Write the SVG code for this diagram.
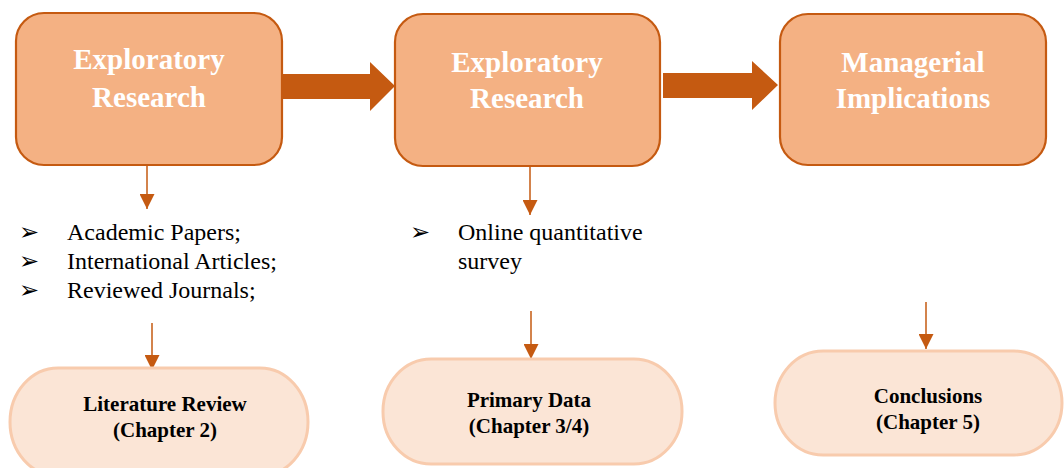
<svg xmlns="http://www.w3.org/2000/svg" width="1064" height="468" viewBox="0 0 1064 468">
  <defs>
    <marker id="tri" markerWidth="15" markerHeight="15" viewBox="0 0 15 15" refX="15" refY="7.5" orient="auto" markerUnits="userSpaceOnUse">
      <path d="M0,0 L15,7.5 L0,15 Z" fill="#c55a11"/>
    </marker>
    <style>
      .stage { fill: #f4b183; stroke: #c55a11; stroke-width: 2.2; }
      .result { fill: #fbe5d6; stroke: #f8cbad; stroke-width: 3; }
      .title { font-family: "Liberation Serif", "Times New Roman", serif; font-weight: bold; font-size: 29px; fill: #ffffff; text-anchor: middle; }
      .label { font-family: "Liberation Serif", "Times New Roman", serif; font-weight: bold; font-size: 21px; fill: #000000; text-anchor: middle; }
      .item { font-family: "Liberation Serif", "Times New Roman", serif; font-size: 24px; fill: #000000; }
      .bullet { font-family: "DejaVu Sans", sans-serif; font-size: 24px; fill: #000000; }
      .big { fill: #c55a11; }
      .thin { stroke: #c55a11; stroke-width: 1.5; fill: none; marker-end: url(#tri); }
    </style>
  </defs>
  <rect width="1064" height="468" fill="#ffffff"/>

  <!-- connectors -->
  <g id="connectors">
    <path class="big" d="M282,74 L370,74 L370,62 L395,86 L370,111 L370,99 L282,99 Z"/>
    <path class="big" d="M663,73 L752,73 L752,61 L778,85 L752,110 L752,98 L663,98 Z"/>
    <line class="thin" x1="147" y1="165" x2="147" y2="209"/>
    <line class="thin" x1="530" y1="167" x2="530" y2="215"/>
    <line class="thin" x1="152" y1="323" x2="152" y2="370"/>
    <line class="thin" x1="531" y1="311" x2="531" y2="359"/>
    <line class="thin" x1="926" y1="302" x2="926" y2="349"/>
  </g>

  <!-- research stages -->
  <g id="stage-exploratory-1">
    <rect class="stage" x="16" y="13" width="266" height="152" rx="28" ry="28"/>
    <text class="title" x="149" y="69">Exploratory</text>
    <text class="title" x="149" y="107">Research</text>
  </g>
  <g id="stage-exploratory-2">
    <rect class="stage" x="395" y="14" width="265" height="152" rx="28" ry="28"/>
    <text class="title" x="527" y="72">Exploratory</text>
    <text class="title" x="527" y="108">Research</text>
  </g>
  <g id="stage-managerial">
    <rect class="stage" x="780" y="14" width="266" height="151" rx="28" ry="28"/>
    <text class="title" x="913" y="72">Managerial</text>
    <text class="title" x="913" y="108">Implications</text>
  </g>

  <!-- sources -->
  <g id="sources-secondary">
    <text class="bullet" x="19" y="240">➢</text>
    <text class="item" x="67" y="240">Academic Papers;</text>
    <text class="bullet" x="19" y="269">➢</text>
    <text class="item" x="67" y="269">International Articles;</text>
    <text class="bullet" x="19" y="298">➢</text>
    <text class="item" x="67" y="298">Reviewed Journals;</text>
  </g>
  <g id="sources-primary">
    <text class="bullet" x="410" y="240">➢</text>
    <text class="item" x="458" y="240">Online quantitative</text>
    <text class="item" x="458" y="269">survey</text>
  </g>

  <!-- chapters -->
  <g id="chapter-literature">
    <rect class="result" x="10" y="368" width="298" height="108" rx="48" ry="54"/>
    <text class="label" x="165" y="411">Literature Review</text>
    <text class="label" x="165" y="437">(Chapter 2)</text>
  </g>
  <g id="chapter-primary">
    <rect class="result" x="383" y="359" width="299" height="105" rx="48" ry="52"/>
    <text class="label" x="529" y="407">Primary Data</text>
    <text class="label" x="529" y="433">(Chapter 3/4)</text>
  </g>
  <g id="chapter-conclusions">
    <rect class="result" x="775" y="351" width="287" height="104" rx="48" ry="52"/>
    <text class="label" x="928" y="403">Conclusions</text>
    <text class="label" x="928" y="429">(Chapter 5)</text>
  </g>
</svg>
